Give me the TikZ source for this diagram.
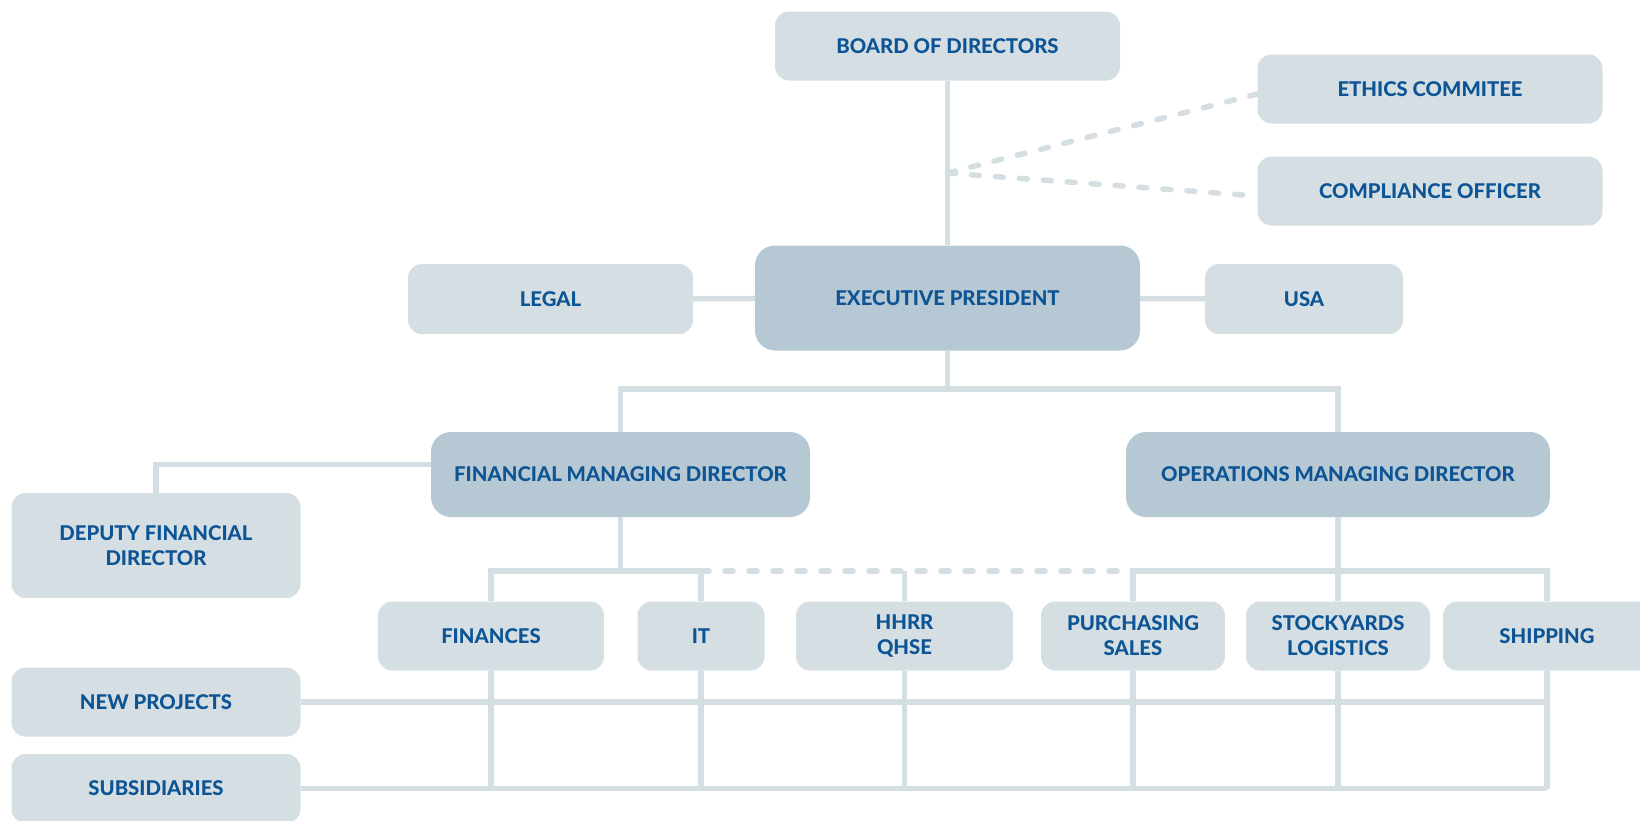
\documentclass[tikz,border=0pt]{standalone}
\usepackage{fontspec}
\setmainfont{Lato}[BoldFont={Lato Heavy}]

\definecolor{boxlight}{HTML}{D5DFE3}
\definecolor{boxdark}{HTML}{B5C8D3}
\definecolor{textblue}{HTML}{0D5495}

\tikzset{
    unit/.style={fill=boxlight, rounded corners=14pt, inner sep=0pt,
        text=textblue, align=center, font=\bfseries\fontsize{20.3}{25}\selectfont},
    head/.style={unit, fill=boxdark, rounded corners=20pt},
    link/.style={draw=boxlight, line width=5.5pt},
    dashlink/.style={link, line cap=round, dash pattern=on 8pt off 16pt},
}

\begin{document}
\begin{tikzpicture}[x=1pt, y=-1pt]
    \useasboundingbox (0,0) rectangle (1640,820);

    \node[unit, minimum width=345pt, minimum height=69pt] (board) at (947.5,46) {BOARD OF DIRECTORS};
    \node[unit, minimum width=345pt, minimum height=69pt] (ethics) at (1430,89) {ETHICS COMMITEE};
    \node[unit, minimum width=345pt, minimum height=69pt] (compl) at (1430,191) {COMPLIANCE OFFICER};
    \node[head, minimum width=385pt, minimum height=105pt] (exec) at (947.5,298) {EXECUTIVE PRESIDENT};
    \node[unit, minimum width=285pt, minimum height=70pt] (legal) at (550.5,299) {LEGAL};
    \node[unit, minimum width=198pt, minimum height=70pt] (usa) at (1304,299) {USA};

    \node[head, minimum width=379pt, minimum height=85pt] (fmd) at (620.5,474.5) {FINANCIAL MANAGING DIRECTOR};
    \node[head, minimum width=424pt, minimum height=85pt] (omd) at (1338,474.5) {OPERATIONS MANAGING DIRECTOR};
    \node[unit, minimum width=289pt, minimum height=105pt] (deputy) at (156,545.5) {DEPUTY FINANCIAL\\DIRECTOR};

    \node[unit, minimum width=226pt, minimum height=69pt] (fin) at (491,636) {FINANCES};
    \node[unit, minimum width=127pt, minimum height=69pt] (it) at (701,636) {IT};
    \node[unit, minimum width=217pt, minimum height=69pt] (hhrr) at (904.5,636) {HHRR\\QHSE};
    \node[unit, minimum width=184pt, minimum height=69pt] (pur) at (1133,636) {PURCHASING\\SALES};
    \node[unit, minimum width=184pt, minimum height=69pt] (sto) at (1338,636) {STOCKYARDS\\LOGISTICS};
    \node[unit, minimum width=208pt, minimum height=69pt] (ship) at (1547,636) {SHIPPING};

    \node[unit, minimum width=289pt, minimum height=69pt] (newp) at (156,702) {NEW PROJECTS};
    \node[unit, minimum width=289pt, minimum height=69pt] (subs) at (156,788.5) {SUBSIDIARIES};

    \coordinate (split) at (947.5,173);
    \coordinate (topbar) at (947.5,389);
    \coordinate (fbar) at (620.5,571);
    \coordinate (obar) at (1338,571);

    \draw[link] (board) -- (exec);
    \draw[dashlink] (split) -- ([yshift=-5pt]ethics.west);
    \draw[dashlink] (split) -- ([yshift=-5pt]compl.west);
    \draw[link] (legal) -- (exec);
    \draw[link] (exec) -- (usa);

    \draw[link] (exec) -- (topbar);
    \draw[link] (fmd) |- (topbar) -| (omd);
    \draw[link] ([yshift=10pt]fmd.west) -| (deputy);

    \draw[link] (fmd) -- (fbar);
    \draw[link] (fin) |- (fbar) -| (it);
    \draw[dashlink] (it |- fbar) -- (pur |- fbar);
    \draw[link] (hhrr) -- (hhrr |- fbar);
    \draw[link] (omd) -- (sto);
    \draw[link] (pur) |- (obar) -| (ship);

    \draw[link] (newp) -- (newp -| ship);
    \draw[link] (subs) -- (subs -| ship);
    \foreach \n in {fin, it, hhrr, pur, sto, ship}
        \draw[link] (\n) -- (\n |- subs);
\end{tikzpicture}
\end{document}
